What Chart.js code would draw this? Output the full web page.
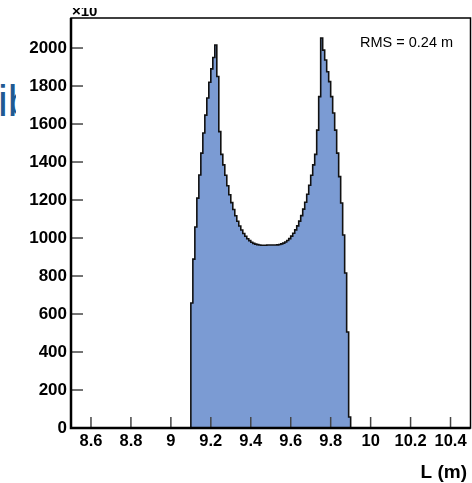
<!DOCTYPE html>
<html>
<head>
<meta charset="utf-8">
<script src="https://cdn.jsdelivr.net/npm/chart.js@4/dist/chart.umd.min.js"></script>
<style>
  html, body { margin: 0; padding: 0; background: #fff; }
  #wrap { position: relative; width: 472px; height: 483px; overflow: hidden; }
  #behind { position: absolute; left: 0; top: 79px; width: 16px; height: 46px; overflow: hidden; }
  #behind span { position: absolute; left: -2px; top: 0; font: 44px/44px "Liberation Sans", Arial, sans-serif; color: #1f5a93; white-space: nowrap; }
  canvas { position: absolute; left: 0; top: 0; }
</style>
</head>
<body>
<div id="wrap">
  <div id="behind"><span>ib</span></div>
  <canvas id="chart" width="472" height="483"></canvas>
</div>
<script>
// histogram of L, 0.01 m bins starting at 9.10 m (counts in units of 10)
var binLow = 9.10;
var binWidth = 0.01;
var counts = [
  263, 658, 889, 1058, 1210, 1332, 1447, 1553, 1647, 1737,
  1820, 1890, 1950, 2016, 1850, 1560, 1440, 1385, 1330, 1275,
  1228, 1186, 1150, 1117, 1088, 1063, 1042, 1024, 1009, 996,
  986, 978, 972, 968, 965, 963, 962, 962, 962, 963,
  963, 963, 963, 963, 964, 966, 969, 973, 979, 987,
  997, 1010, 1025, 1043, 1064, 1089, 1118, 1152, 1188, 1230,
  1278, 1330, 1385, 1440, 1568, 1744, 2053, 1989, 1937, 1875,
  1823, 1744, 1658, 1568, 1447, 1323, 1184, 1016, 816, 505,
  58
];
var xTicks = [8.6, 8.8, 9.0, 9.2, 9.4, 9.6, 9.8, 10.0, 10.2, 10.4];
var yTicks = [0, 200, 400, 600, 800, 1000, 1200, 1400, 1600, 1800, 2000];
var xMin = 8.5, xMax = 10.5;
var yMax = 2158;
var rmsText = "RMS = 0.24 m";
var xTitle = "L (m)";

var FONT = '"Liberation Sans", Arial, Helvetica, sans-serif';

// step outline points: left edge of each bin, closed down to zero at both ends
var pts = [{ x: binLow, y: 0 }];
for (var i = 0; i < counts.length; i++) {
  pts.push({ x: binLow + i * binWidth, y: counts[i] });
}
pts.push({ x: binLow + counts.length * binWidth, y: 0 });

var overlay = {
  id: 'overlay',
  afterDatasetsDraw: function(chart) {
    var ctx = chart.ctx, a = chart.chartArea;
    var xs = chart.scales.x, ys = chart.scales.y;
    ctx.save();

    // ticks drawn inside the frame
    ctx.strokeStyle = '#454545';
    ctx.lineWidth = 1.5;
    yTicks.forEach(function(v) {
      var py = ys.getPixelForValue(v);
      ctx.beginPath(); ctx.moveTo(a.left, py); ctx.lineTo(a.left + 12, py); ctx.stroke();
    });
    xTicks.forEach(function(v) {
      var px = xs.getPixelForValue(v);
      ctx.beginPath(); ctx.moveTo(px, a.bottom); ctx.lineTo(px, a.bottom - 11); ctx.stroke();
    });

    // frame
    ctx.strokeStyle = '#000';
    ctx.lineWidth = 1.5;
    ctx.strokeRect(a.left, a.top, a.right - a.left, a.bottom - a.top);
    ctx.lineWidth = 2.5;
    ctx.beginPath();
    ctx.moveTo(a.left, a.top); ctx.lineTo(a.left, a.bottom); ctx.lineTo(a.right, a.bottom);
    ctx.stroke();

    // stats text
    ctx.fillStyle = '#000';
    ctx.font = '14.5px ' + FONT;
    ctx.textAlign = 'left';
    ctx.textBaseline = 'alphabetic';
    ctx.fillText(rmsText, 360, 47);

    // axis title
    ctx.font = 'bold 19px ' + FONT;
    ctx.textAlign = 'right';
    ctx.fillText(xTitle, 467, 478);

    // exponent label, cut at the top
    ctx.beginPath();
    ctx.rect(60, 8, 60, 10);
    ctx.clip();
    ctx.font = 'bold 15px ' + FONT;
    ctx.textAlign = 'left';
    ctx.fillText('\u00d710', 72, 16);

    ctx.restore();
  }
};

new Chart(document.getElementById('chart'), {
  type: 'line',
  data: {
    datasets: [{
      data: pts,
      stepped: 'after',
      fill: 'origin',
      backgroundColor: '#7b9bd3',
      borderColor: '#111',
      borderWidth: 1.6,
      pointRadius: 0,
      tension: 0
    }]
  },
  options: {
    responsive: false,
    animation: false,
    events: [],
    layout: { padding: { left: 0, right: 1.5, top: 18, bottom: 0 } },
    plugins: { legend: { display: false }, tooltip: { enabled: false } },
    scales: {
      x: {
        type: 'linear',
        min: xMin,
        max: xMax,
        border: { display: false },
        grid: { display: false, drawTicks: false },
        afterBuildTicks: function(scale) {
          scale.ticks = xTicks.map(function(v) { return { value: v }; });
        },
        afterFit: function(scale) { scale.height = 55; },
        ticks: {
          autoSkip: false,
          maxRotation: 0,
          padding: 4,
          color: '#000',
          font: { family: FONT, size: 16.5, weight: 'bold' },
          callback: function(v) { return String(Math.round(v * 10) / 10); }
        }
      },
      y: {
        min: 0,
        max: yMax,
        border: { display: false },
        grid: { display: false, drawTicks: false },
        afterBuildTicks: function(scale) {
          scale.ticks = yTicks.map(function(v) { return { value: v }; });
        },
        afterFit: function(scale) { scale.width = 71; },
        ticks: {
          autoSkip: false,
          padding: 4,
          color: '#000',
          font: { family: FONT, size: 17, weight: 'bold' },
          callback: function(v) { return String(v); }
        }
      }
    }
  },
  plugins: [overlay]
});
</script>
</body>
</html>
